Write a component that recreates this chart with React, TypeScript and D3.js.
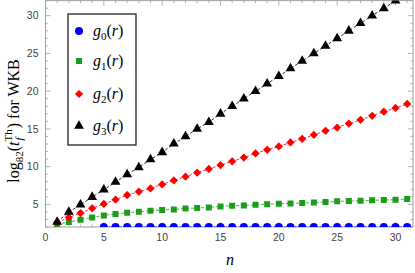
import React, { useEffect, useRef } from "react";
import * as d3 from "d3";

// values
const g0 = [
  [5, 2], [6, 2], [7, 2], [8, 2], [9, 2], [10, 2], [11, 2], [12, 2], [13, 2], [14, 2],
  [15, 2], [16, 2], [17, 2], [18, 2], [19, 2], [20, 2], [21, 2], [22, 2], [23, 2], [24, 2],
  [25, 2], [26, 2], [27, 2], [28, 2], [29, 2], [30, 2], [31, 2],
];
const g1 = [
  [1, 2.35], [2, 2.66], [3, 2.97], [4, 3.27], [5, 3.54], [6, 3.72], [7, 3.89], [8, 4.03],
  [9, 4.16], [10, 4.25], [11, 4.33], [12, 4.46], [13, 4.52], [14, 4.6], [15, 4.73],
  [16, 4.82], [17, 4.86], [18, 4.95], [19, 5.02], [20, 5.09], [21, 5.13], [22, 5.18],
  [23, 5.26], [24, 5.31], [25, 5.4], [26, 5.44], [27, 5.48], [28, 5.53], [29, 5.58],
  [30, 5.62], [31, 5.71],
];
const g2 = [
  [1, 2.6], [2, 3.27], [3, 3.85], [4, 4.47], [5, 5.05], [6, 5.62], [7, 6.24], [8, 6.68],
  [9, 7.11], [10, 7.64], [11, 8.17], [12, 8.66], [13, 9.2], [14, 9.7], [15, 10.2],
  [16, 10.7], [17, 11.2], [18, 11.75], [19, 12.23], [20, 12.67], [21, 13.2], [22, 13.68],
  [23, 14.21], [24, 14.74], [25, 15.18], [26, 15.7], [27, 16.2], [28, 16.74], [29, 17.28],
  [30, 17.77], [31, 18.3],
];
const g3 = [
  [1, 2.66], [2, 3.99], [3, 4.95], [4, 5.97], [5, 6.94], [6, 7.96], [7, 8.97], [8, 9.9],
  [9, 10.96], [10, 11.9], [11, 13.03], [12, 14.0], [13, 15.0], [14, 15.9], [15, 17.0],
  [16, 18.0], [17, 19.0], [18, 20.0], [19, 21.0], [20, 22.0], [21, 23.0], [22, 24.0],
  [23, 25.0], [24, 26.0], [25, 27.0], [26, 28.0], [27, 29.0], [28, 30.0], [29, 30.97],
  [30, 32.0], [31, 33.0],
];
const seriesNames = ["0", "1", "2", "3"];
const xTicks = [0, 5, 10, 15, 20, 25, 30];
const yTicks = [5, 10, 15, 20, 25, 30];

const W = 415, H = 273;
const left = 45.5, right = 413, top = 0.6, bottom = 227;
const serif = "Liberation Serif, Times New Roman, serif";

export default function App() {
  const ref = useRef<SVGSVGElement>(null);

  useEffect(() => {
    const svg = d3.select(ref.current);
    svg.selectAll("*").remove();

    const x = d3.scaleLinear().domain([0, 31.5]).range([left, right]);
    const y = d3.scaleLinear().domain([2, 32]).range([bottom, top]);

    svg.append("defs").append("clipPath").attr("id", "plotclip")
      .append("rect").attr("x", left).attr("y", top)
      .attr("width", right - left).attr("height", bottom - top);

    const frame = svg.append("g");
    frame.append("rect")
      .attr("x", left).attr("y", top)
      .attr("width", right - left).attr("height", bottom - top)
      .attr("fill", "none").attr("stroke", "#a0a0a0").attr("stroke-width", 1);

    // ticks, inward on all four sides
    d3.range(0, 32, 1).forEach((v) => {
      const len = v % 5 === 0 ? 5 : 2.5;
      frame.append("line").attr("x1", x(v)).attr("x2", x(v))
        .attr("y1", bottom).attr("y2", bottom - len)
        .attr("stroke", "#a0a0a0").attr("stroke-width", 0.8);
      frame.append("line").attr("x1", x(v)).attr("x2", x(v))
        .attr("y1", top).attr("y2", top + len)
        .attr("stroke", "#a0a0a0").attr("stroke-width", 0.8);
    });
    d3.range(2, 33, 1).forEach((v) => {
      const len = v % 5 === 0 ? 5 : 2.5;
      frame.append("line").attr("x1", left).attr("x2", left + len)
        .attr("y1", y(v)).attr("y2", y(v))
        .attr("stroke", "#a0a0a0").attr("stroke-width", 0.8);
      frame.append("line").attr("x1", right).attr("x2", right - len)
        .attr("y1", y(v)).attr("y2", y(v))
        .attr("stroke", "#a0a0a0").attr("stroke-width", 0.8);
    });

    frame.selectAll("text.xt").data(xTicks).enter().append("text")
      .attr("x", (d) => x(d)).attr("y", 241)
      .attr("text-anchor", "middle")
      .attr("font-family", "Liberation Sans, Arial, sans-serif")
      .attr("font-size", 10.5).attr("fill", "#444")
      .text((d) => d);
    frame.selectAll("text.yt").data(yTicks).enter().append("text")
      .attr("x", 38.5).attr("y", (d) => y(d) + 3.7)
      .attr("text-anchor", "end")
      .attr("font-family", "Liberation Sans, Arial, sans-serif")
      .attr("font-size", 10.5).attr("fill", "#444")
      .text((d) => d);

    const plot = svg.append("g").attr("clip-path", "url(#plotclip)");
    const line = d3.line<number[]>().x((d) => x(d[0])).y((d) => y(d[1]));

    const blue = "#0000ff", green = "#1a9e1a", red = "#ff0000", black = "#000000";
    const all = [
      { data: g0, color: blue, shape: d3.symbolCircle, size: 50, rot: 0 },
      { data: g1, color: green, shape: d3.symbolSquare, size: 36, rot: 0 },
      { data: g2, color: red, shape: d3.symbolSquare, size: 34, rot: 45 },
      { data: g3, color: black, shape: d3.symbolTriangle, size: 42, rot: 0 },
    ];

    all.forEach((s) => {
      plot.append("path").datum(s.data).attr("d", line)
        .attr("fill", "none").attr("stroke", s.color)
        .attr("stroke-width", 1).attr("stroke-dasharray", "3,2")
        .attr("opacity", 0.8);
      plot.selectAll(null).data(s.data).enter().append("path")
        .attr("d", d3.symbol().type(s.shape).size(s.size))
        .attr("transform", (d) => `translate(${x(d[0])},${y(d[1])}) rotate(${s.rot})`)
        .attr("fill", s.color);
    });

    // legend
    const lg = svg.append("g");
    lg.append("rect").attr("x", 68).attr("y", 14).attr("width", 68).attr("height", 131)
      .attr("fill", "white").attr("stroke", "#222").attr("stroke-width", 1.3);
    const rowY = [31, 61, 94, 126];
    all.forEach((s, i) => {
      lg.append("path")
        .attr("d", d3.symbol().type(s.shape).size(s.size))
        .attr("transform", `translate(79,${rowY[i]}) rotate(${s.rot})`)
        .attr("fill", s.color);
      const t = lg.append("text").attr("x", 93).attr("y", rowY[i] + 5)
        .attr("font-family", serif)
        .attr("font-size", 16);
      t.append("tspan").attr("font-style", "italic").text("g");
      t.append("tspan").attr("font-size", 11).attr("dy", 3.5).text(seriesNames[i]);
      t.append("tspan").attr("dy", -3.5).text("(");
      t.append("tspan").attr("font-style", "italic").text("r");
      t.append("tspan").text(")");
    });

    // axis titles
    svg.append("text").attr("x", 230).attr("y", 265)
      .attr("text-anchor", "middle")
      .attr("font-family", serif)
      .attr("font-size", 16).attr("font-style", "italic").text("n");

    const yl = svg.append("g").attr("transform", "translate(19,121) rotate(-90)");
    const yt = yl.append("text")
      .attr("text-anchor", "middle")
      .attr("font-family", serif)
      .attr("font-size", 16);
    yt.append("tspan").text("log");
    yt.append("tspan").attr("font-size", 11).attr("dy", 4).text("82");
    yt.append("tspan").attr("dy", -4).text("(");
    yt.append("tspan").attr("font-style", "italic").text("t");
    yt.append("tspan").attr("font-size", 11).attr("font-style", "italic").attr("dy", 4).attr("dx", 1).text("f");
    yt.append("tspan").attr("font-size", 11).attr("dy", -11).attr("dx", -4).text("Th");
    yt.append("tspan").attr("dy", 7).attr("dx", 1).text(") for WKB");
  }, []);

  return <svg ref={ref} width={W} height={H} style={{ display: "block", position: "absolute", left: 0, top: 0 }} />;
}
